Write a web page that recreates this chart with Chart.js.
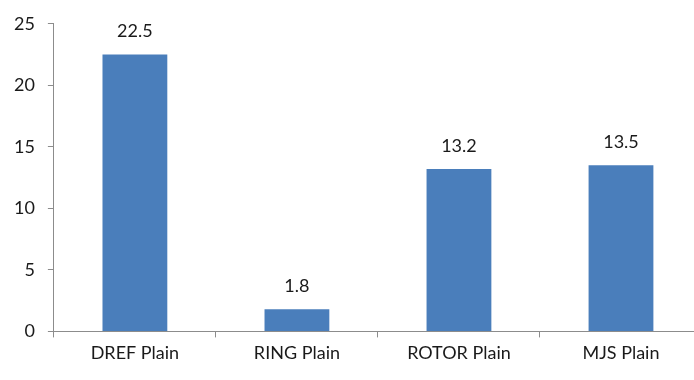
<!DOCTYPE html>
<html>
<head>
<meta charset="utf-8">
<script src="https://cdn.jsdelivr.net/npm/chart.js@4/dist/chart.umd.min.js"></script>
<style>
  html, body { margin: 0; padding: 0; background: #fff; overflow: hidden; }
  #wrap { width: 694px; height: 380px; overflow: hidden; position: relative; }
  #wrap canvas { position: absolute; left: 0; top: 0; }
</style>
</head>
<body>
<div id="wrap"><canvas id="c" width="712" height="380"></canvas></div>
<script>
const categories = ['DREF Plain', 'RING Plain', 'ROTOR Plain', 'MJS Plain'];
const values = [22.5, 1.8, 13.2, 13.5];
const yTicks = [0, 5, 10, 15, 20, 25];

const FONT = 'Lato, "Open Sans", sans-serif';
const TEXT = '#1a1a1a';
const AXIS = '#8c8c8c';

// draws the value above each bar
const valueLabels = {
  id: 'valueLabels',
  afterDatasetsDraw(chart) {
    const ctx = chart.ctx;
    const meta = chart.getDatasetMeta(0);
    ctx.save();
    ctx.font = '18px ' + FONT;
    ctx.fillStyle = TEXT;
    ctx.textAlign = 'center';
    ctx.textBaseline = 'middle';
    meta.data.forEach((bar, i) => {
      ctx.fillText(String(values[i]), bar.x, bar.y - 23);
    });
    ctx.restore();
  }
};

new Chart(document.getElementById('c'), {
  type: 'bar',
  data: {
    labels: categories,
    datasets: [{
      data: values,
      backgroundColor: '#4A7EBB',
      borderWidth: 0,
      categoryPercentage: 1,
      barPercentage: 0.4
    }]
  },
  options: {
    responsive: false,
    animation: false,
    layout: { padding: { top: 12, right: 10, left: 1, bottom: 11 } },
    plugins: { legend: { display: false }, tooltip: { enabled: false } },
    scales: {
      x: {
        grid: {
          offset: true,
          drawOnChartArea: false,
          drawTicks: true,
          tickLength: 6,
          color: AXIS
        },
        border: { display: true, color: AXIS, width: 1 },
        ticks: {
          font: { family: FONT, size: 18 },
          color: TEXT,
          padding: 5,
          maxRotation: 0
        }
      },
      y: {
        min: 0,
        max: 25,
        afterBuildTicks(axis) { axis.ticks = yTicks.map(v => ({ value: v })); },
        grid: {
          drawOnChartArea: false,
          drawTicks: true,
          tickLength: 6,
          color: AXIS
        },
        border: { display: true, color: AXIS, width: 1 },
        ticks: {
          font: { family: FONT, size: 18 },
          color: TEXT,
          padding: 13
        }
      }
    }
  },
  plugins: [valueLabels]
});
</script>
</body>
</html>
